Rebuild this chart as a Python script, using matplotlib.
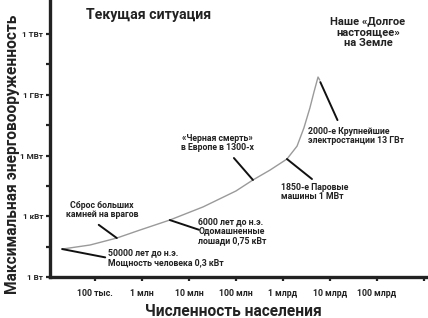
import matplotlib
matplotlib.use("Agg")
import matplotlib.pyplot as plt
from matplotlib.ticker import FixedLocator, NullFormatter

plt.rcParams['font.family'] = ['Roboto', 'DejaVu Sans']
plt.rcParams['font.weight'] = 'bold'

# curve
population = [1.99e4, 7.8e4, 2.9e5, 9.1e5, 3.9e6, 2.0e7, 1.0e8, 2.3e8, 5.3e8,
              1.22e9, 2.0e9, 2.8e9, 3.75e9, 4.6e9, 5.6e9, 6.1e9]
power = [24, 38, 84, 210, 650, 2900, 17700, 62000, 1.9e5,
         6.7e5, 2.9e6, 2.3e7, 2.2e8, 1.4e9, 7.5e9, 5.3e9]

y_ticks = [1, 1e3, 1e6, 1e9, 1e12]
y_labels = ["1 Вт", "1 кВт", "1 МВт", "1 ГВт", "1 ТВт"]
y_minor = [10 ** 1.5, 10 ** 4.5, 10 ** 7.5, 10 ** 10.5]
x_ticks = [1e5, 1e6, 1e7, 1e8, 1e9, 1e10, 1e11, 1e12]
x_labels = ["100 тыс.", "1 млн", "10 млн", "100 млн", "1 млрд", "10 млрд", "100 млрд", ""]

# (text, index of curve point, pointer offset in points, text pos in axes fraction, ha)
notes = [
    ("50000 лет до н.э.\nМощность человека 0,3 кВт", 0, (31, -6), (0.153, 0.069), "left"),
    ("Сброс больших\nкамней на врагов", 2, (-13, 9.5), (0.138, 0.242), "center"),
    ("6000 лет до н.э.\nОдомашненные\nлошади 0,75 кВт", 4, (21, -7), (0.392, 0.166), "left"),
    ("«Черная смерть»\nв Европе в 1300-х", 7, (-13.7, 15.8), (0.442, 0.484), "center"),
    ("1850-е Паровые\nмашины 1 МВт", 9, (18, -14.4), (0.611, 0.307), "left"),
    ("2000-е Крупнейшие\nэлектростанции 13 ГВт", 14, (14, -31), (0.683, 0.509), "left"),
]

dark = "#222222"

fig = plt.figure(figsize=(4.28, 3.18), dpi=100)
ax = fig.add_axes([50 / 428, 41 / 318, 378 / 428, 277 / 318])
ax.set_xscale("log")
ax.set_yscale("log")
ax.set_xlim(10 ** 4.04, 10 ** 12.09)
ax.set_ylim(1, 10 ** 13.68)

ax.plot(population, power, color="#9a9a9a", lw=1.0, solid_capstyle="round")

for text, i, off, pos, ha in notes:
    ax.annotate("", xy=(population[i], power[i]), xytext=off, textcoords="offset points",
                arrowprops=dict(arrowstyle="-", color="#111111", lw=1.4,
                                shrinkA=0, shrinkB=4 if i == 14 else 0))
    ax.text(pos[0], pos[1], text, transform=ax.transAxes, ha=ha, va="center",
            fontsize=6.3, color=dark, linespacing=1.1)

for side in ["top", "right"]:
    ax.spines[side].set_visible(False)
for side in ["left", "bottom"]:
    ax.spines[side].set_linewidth(2.4)
    ax.spines[side].set_color(dark)

ax.yaxis.set_major_locator(FixedLocator(y_ticks))
ax.set_yticklabels(y_labels)
ax.yaxis.set_minor_locator(FixedLocator(y_minor))
ax.yaxis.set_minor_formatter(NullFormatter())
ax.xaxis.set_major_locator(FixedLocator(x_ticks))
ax.set_xticklabels(x_labels)
ax.xaxis.set_minor_locator(FixedLocator([]))
ax.tick_params(which="both", direction="out", length=3, width=1.6, color=dark,
               labelsize=6.3, labelcolor=dark, pad=2)
ax.tick_params(axis="y", labelsize=5.9)
ax.tick_params(axis="x", pad=6)

ax.text(0.095, 0.946, "Текущая ситуация", transform=ax.transAxes, ha="left", va="center",
        fontsize=10.2, color=dark)
ax.text(0.841, 0.884, "Наше «Долгое\nнастоящее»\nна Земле", transform=ax.transAxes,
        ha="center", va="center", fontsize=8, color=dark, linespacing=1.1)

fig.text(233 / 428, 0.022, "Численность населения", ha="center", va="center",
         fontsize=11.2, color=dark)
fig.text(0.029, 0.516, "Максимальная энерговооруженность", ha="center", va="center",
         rotation=90, fontsize=11.2, color=dark)

fig.savefig("out.png", dpi=100)
